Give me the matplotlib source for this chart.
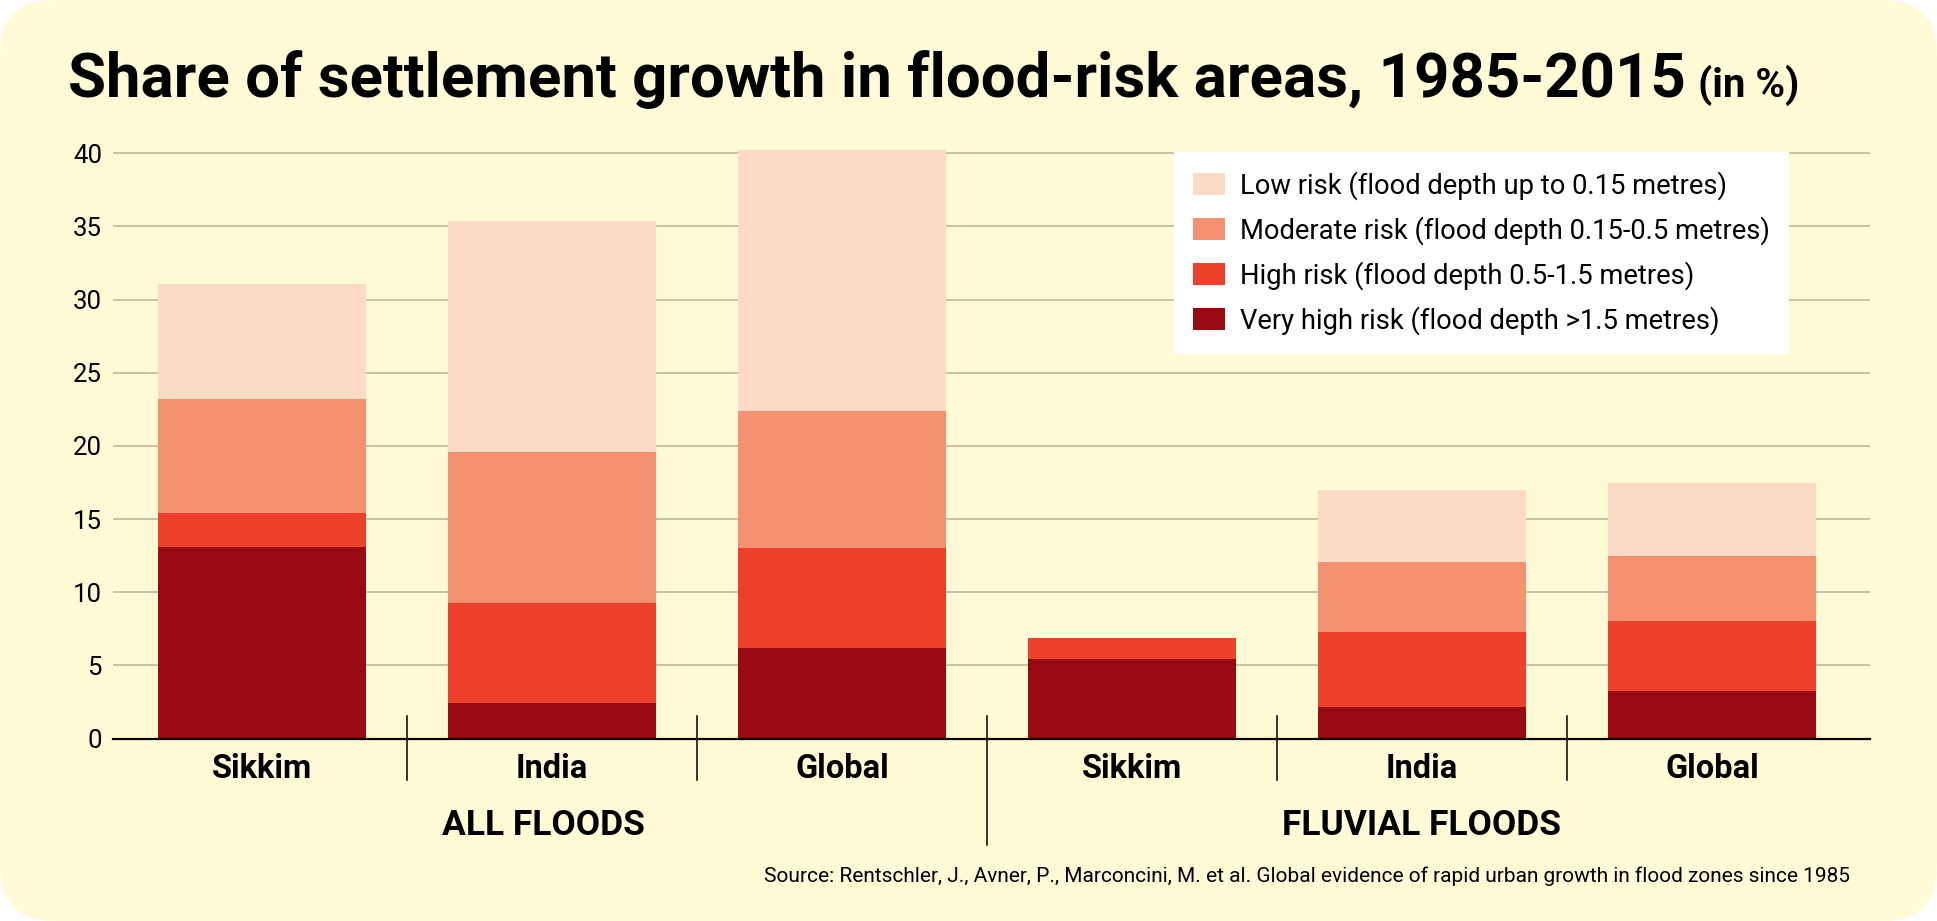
"""Share of settlement growth in flood-risk areas, 1985-2015 (stacked bars)."""

import matplotlib

matplotlib.use("Agg")
import matplotlib.pyplot as plt
import numpy as np
from matplotlib import font_manager
from matplotlib.patches import FancyBboxPatch

# ---- data -------------------------------------------------------------
places = ["Sikkim", "India", "Global", "Sikkim", "India", "Global"]
groups = ["ALL FLOODS", "FLUVIAL FLOODS"]
very_high = [13.1, 2.45, 6.2, 5.4, 2.17, 3.26]
high = [2.3, 6.83, 6.8, 1.45, 5.1, 4.8]
moderate = [7.8, 10.32, 9.4, 0.05, 4.8, 4.4]
low = [7.9, 15.8, 17.8, 0.0, 4.9, 5.0]
series_labels = [
    "Very high risk (flood depth >1.5 metres)",
    "High risk (flood depth 0.5-1.5 metres)",
    "Moderate risk (flood depth 0.15-0.5 metres)",
    "Low risk (flood depth up to 0.15 metres)",
]
yticks = [0, 5, 10, 15, 20, 25, 30, 35, 40]
title = "Share of settlement growth in flood-risk areas, 1985-2015"
title_unit = "(in %)"
source = (
    "Source: Rentschler, J., Avner, P., Marconcini, M. et al. Global evidence "
    "of rapid urban growth in flood zones since 1985"
)

# ---- style ------------------------------------------------------------
colors = ["#990a10", "#ee412b", "#f39170", "#fcdac6"]
background = "#fffbd6"
grid_color = "#bdb99d"

installed = {f.name for f in font_manager.fontManager.ttflist}
font = "Liberation Sans Narrow" if "Liberation Sans Narrow" in installed else "Roboto"
plt.rcParams["font.family"] = [font, "DejaVu Sans"]

W, H = 1937, 921
fig = plt.figure(figsize=(W / 100, H / 100), dpi=100, facecolor="white")
fig.patches.append(
    FancyBboxPatch(
        (0, 0), W / 100, H / 100,
        boxstyle="round,pad=0,rounding_size=0.55",
        transform=fig.dpi_scale_trans,
        facecolor=background, edgecolor="none", zorder=-10,
    )
)

y0_px, unit_px, ytop = 738.5, 14.63, 42.0
ax = fig.add_axes([113 / W, (H - y0_px) / H, (1870 - 113) / W, ytop * unit_px / H])
ax.set_facecolor("none")

x = np.arange(len(places))
bottom = np.zeros(len(places))
containers = []
for values, color, label in zip([very_high, high, moderate, low], colors, series_labels):
    bars = ax.bar(x, values, width=0.72, bottom=bottom, color=color,
                  edgecolor="none", label=label, zorder=2)
    containers.append(bars)
    bottom += np.array(values)

ax.set_xlim(-0.514, 5.545)
ax.set_ylim(0, ytop)
ax.set_yticks(yticks)
ax.set_yticklabels([str(t) for t in yticks])
ax.yaxis.grid(True, color=grid_color, linewidth=1.2, zorder=0)
ax.set_axisbelow(True)
ax.set_xticks([])
ax.tick_params(axis="y", length=0, pad=8, labelsize=18.5, labelcolor="black")
for side in ["top", "right", "left"]:
    ax.spines[side].set_visible(False)
ax.spines["bottom"].set_linewidth(1.6)
ax.spines["bottom"].set_color("black")
ax.spines["bottom"].set_zorder(3)

xt = ax.get_xaxis_transform()
for xi, name in zip(x, places):
    ax.text(xi, (y0_px - 778) / (ytop * unit_px), name, transform=xt,
            ha="center", va="baseline", fontsize=23.5, fontweight="bold")

# group separators below the axis
for sep in x[:-1] + 0.5:
    lower = -7.28 if sep == 2.5 else -2.84
    ax.plot([sep, sep], [1.54, lower], color="black", linewidth=1.1,
            clip_on=False, zorder=3)

for gx, gname in zip([0.97, 4.0], groups):
    ax.text(gx, (y0_px - 835) / (ytop * unit_px), gname, transform=xt,
            ha="center", va="baseline", fontsize=25.5, fontweight="bold")

handles = [c.patches[0] for c in containers][::-1]
leg = ax.legend(
    handles, series_labels[::-1],
    loc="upper left", bbox_to_anchor=(1174 / W, 1 - 151.7 / H),
    bbox_transform=fig.transFigure, borderaxespad=0,
    fontsize=19.7, frameon=True, fancybox=False, facecolor="white",
    edgecolor="none", framealpha=1, handlelength=1.15, handleheight=0.84,
    handletextpad=0.55, labelspacing=0.6, borderpad=0.7,
)
leg.set_zorder(5)

# title with the smaller unit appended after it
t = fig.text(68 / W, 1 - 96.7 / H, title, fontsize=44.5, fontweight="bold",
             ha="left", va="baseline")
fig.canvas.draw()
ext = t.get_window_extent()
fig.text((ext.x1 + 12) / W, 1 - 96.7 / H, title_unit, fontsize=29,
         fontweight="bold", ha="left", va="baseline")

fig.text(1850 / W, 1 - 881.5 / H, source, fontsize=15, ha="right", va="baseline")

fig.savefig("out.png", dpi=100, facecolor="white")
